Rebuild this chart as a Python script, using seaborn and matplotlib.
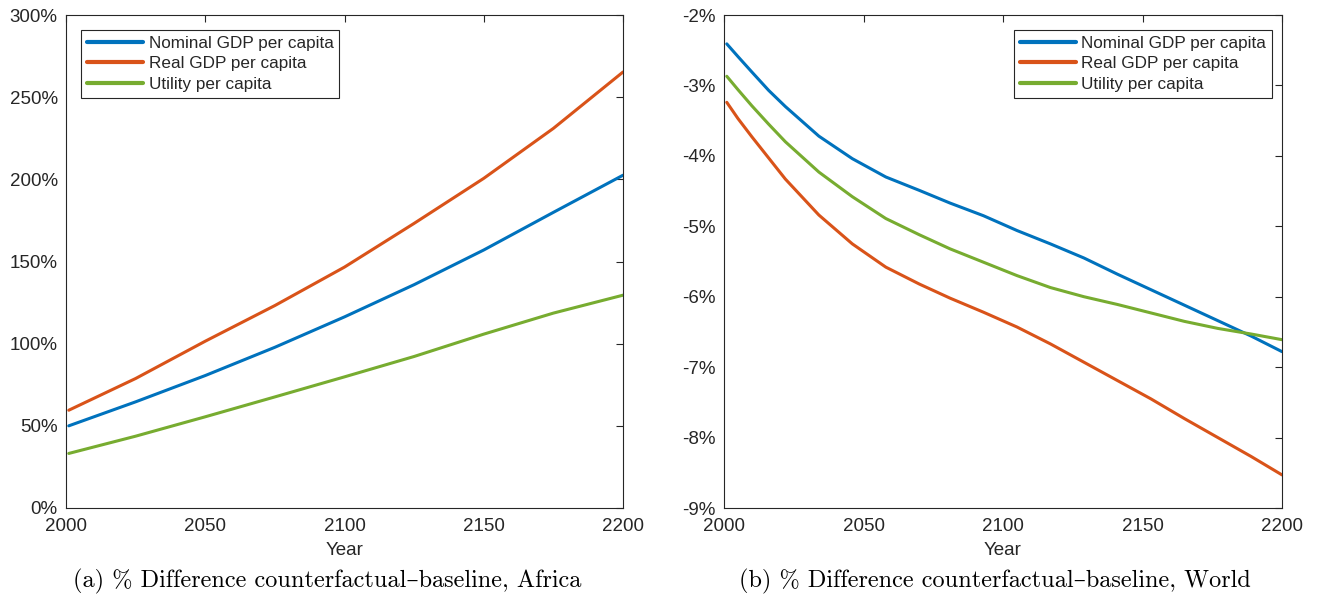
import numpy as np
import pandas as pd
import matplotlib
matplotlib.use("Agg")
import matplotlib.pyplot as plt
import seaborn as sns
from matplotlib.ticker import FuncFormatter, MultipleLocator

# ---------------- data ----------------
series_names = ["Nominal GDP per capita", "Real GDP per capita", "Utility per capita"]
colors = ["#0072BD", "#D95319", "#77AC30"]

# (a) Africa, % difference
africa_years = [2001, 2025, 2050, 2075, 2100, 2125, 2150, 2175, 2200]
africa_nominal = [50.0, 64.6, 80.6, 97.8, 116.3, 135.9, 157.0, 179.9, 202.5]
africa_real = [59.5, 78.8, 101.5, 123.2, 146.6, 173.2, 200.6, 231.0, 265.3]
africa_utility = [33.2, 43.7, 55.5, 67.6, 79.8, 92.2, 105.8, 118.6, 129.5]

# (b) World, % difference
world_years = [2001, 2005, 2010, 2016, 2022, 2034, 2046, 2058, 2070, 2081, 2093,
               2105, 2117, 2129, 2141, 2153, 2165, 2177, 2189, 2200]
world_nominal = [-2.41, -2.59, -2.81, -3.07, -3.30, -3.72, -4.04, -4.30, -4.49, -4.67, -4.85,
                 -5.06, -5.25, -5.45, -5.68, -5.90, -6.12, -6.34, -6.56, -6.78]
world_real = [-3.24, -3.47, -3.73, -4.03, -4.33, -4.84, -5.25, -5.58, -5.82, -6.02, -6.22,
              -6.43, -6.67, -6.93, -7.19, -7.45, -7.73, -8.00, -8.27, -8.53]
world_utility = [-2.87, -3.06, -3.29, -3.55, -3.80, -4.23, -4.58, -4.89, -5.12, -5.32, -5.51,
                 -5.70, -5.87, -6.00, -6.11, -6.23, -6.35, -6.45, -6.53, -6.61]

x_ticks = [2000, 2050, 2100, 2150, 2200]
captions = ["(a) % Difference counterfactual\u2013baseline, Africa",
            "(b) % Difference counterfactual\u2013baseline, World"]


def long_frame(years, vals):
    rows = []
    for name, v in zip(series_names, vals):
        for y, val in zip(years, v):
            rows.append({"Year": y, "value": val, "series": name})
    return pd.DataFrame(rows)


df_a = long_frame(africa_years, [africa_nominal, africa_real, africa_utility])
df_b = long_frame(world_years, [world_nominal, world_real, world_utility])

# ---------------- style ----------------
sns.set_theme(style="white")
plt.rcParams["font.family"] = ["Liberation Sans", "DejaVu Sans"]
plt.rcParams.update({
    "axes.edgecolor": "#262626",
    "axes.linewidth": 0.8,
    "xtick.direction": "in",
    "ytick.direction": "in",
    "xtick.color": "#262626",
    "ytick.color": "#262626",
    "xtick.major.size": 5,
    "ytick.major.size": 5,
    "xtick.major.width": 0.8,
    "ytick.major.width": 0.8,
    "text.color": "#262626",
})

fig = plt.figure(figsize=(13.17, 6.0), dpi=100)
W, H = 1317, 600
ax_a = fig.add_axes([66 / W, 1 - 508 / H, 557 / W, 493 / H])
ax_b = fig.add_axes([724 / W, 1 - 508 / H, 558 / W, 493 / H])

pal = dict(zip(series_names, colors))

for ax, df, ylim, ystep, leg_loc, leg_anchor in [
    (ax_a, df_a, (0, 300), 50, "upper left", (0.027, 0.97)),
    (ax_b, df_b, (-9, -2), 1, "upper right", (0.982, 0.97)),
]:
    sns.lineplot(data=df, x="Year", y="value", hue="series", hue_order=series_names,
                 palette=pal, linewidth=2.2, ax=ax, legend=True)
    ax.set_xlim(2000, 2200)
    ax.set_ylim(*ylim)
    ax.set_xticks(x_ticks)
    ax.yaxis.set_major_locator(MultipleLocator(ystep))
    ax.yaxis.set_major_formatter(FuncFormatter(lambda v, p: f"{v:.0f}%"))
    ax.tick_params(axis="both", which="both", top=True, right=True, labelsize=13.5,
                   labelcolor="#262626")
    ax.tick_params(axis="x", pad=7)
    ax.tick_params(axis="y", pad=6)
    ax.set_xlabel("Year", fontsize=13.5, labelpad=5)
    ax.set_ylabel("")
    for s in ax.spines.values():
        s.set_visible(True)
        s.set_color("#262626")
    handles, labels = ax.get_legend_handles_labels()
    leg = ax.legend(handles, labels, loc=leg_loc, bbox_to_anchor=leg_anchor,
                    frameon=True, fancybox=False, shadow=False, framealpha=1,
                    edgecolor="#262626", fontsize=12.3, handlelength=3.3,
                    handletextpad=0.3, labelspacing=0.33, borderpad=0.35,
                    borderaxespad=0)
    leg.get_frame().set_linewidth(0.8)
    for line in leg.get_lines():
        line.set_linewidth(3)

for xc, cap in zip([327 / W, 995 / W], captions):
    fig.text(xc, 1 - 581 / H, cap, ha="center", va="center",
             fontsize=17.5, family=["cmr10", "DejaVu Serif"], color="black")

fig.savefig("out.png", dpi=100)
